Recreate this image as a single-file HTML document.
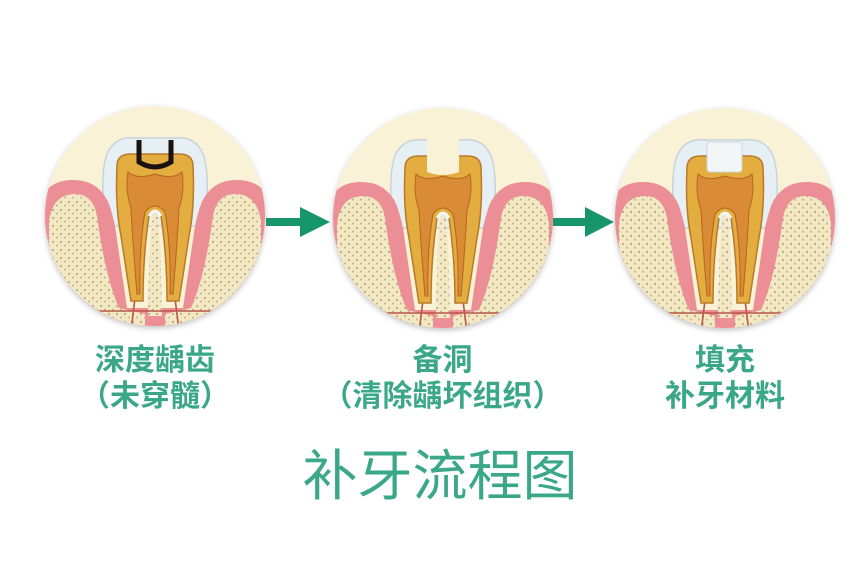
<!DOCTYPE html>
<html><head><meta charset="utf-8"><style>
html,body{margin:0;padding:0;background:#fff;}
body{width:850px;height:579px;overflow:hidden;position:relative;font-family:"Liberation Sans","Noto Sans CJK SC",sans-serif;}
.t{position:absolute;color:#3aa886;text-align:center;font-weight:bold;font-size:30px;line-height:36px;white-space:nowrap;}
</style></head><body>
<svg width="850" height="579" style="position:absolute;left:0;top:0">
<defs>
<pattern id="dots" width="8" height="8" patternUnits="userSpaceOnUse">
<rect width="8" height="8" fill="#f2e8c4"/>
<circle cx="2" cy="2" r="1.1" fill="#bfa97a"/><circle cx="6" cy="5.5" r="1" fill="#c8b386"/>
</pattern>
<clipPath id="cc"><circle cx="0" cy="0" r="110"/></clipPath>
<filter id="sh" x="-20%" y="-20%" width="140%" height="140%"><feDropShadow dx="0" dy="2" stdDeviation="3" flood-color="#000" flood-opacity="0.25"/></filter>
<g id="base">
<circle r="110" fill="#faf2d6" filter="url(#sh)"/>
<g clip-path="url(#cc)">
<!-- enamel (behind gum) -->
<path d="M-50 10 Q-56 -50 -46 -66 Q-38 -80 -20 -78 L20 -78 Q38 -80 46 -66 Q56 -50 50 10 Z" fill="#e6eff3" stroke="#c5d3da" stroke-width="1.5"/>
<path d="M-118 120 L-118 -5 Q-112 -36 -82 -36 Q-56 -36 -46 -12 Q-42 0 -40 10 L-28 92 L28 92 L40 10 Q42 0 46 -12 Q56 -36 82 -36 Q112 -36 118 -5 L118 120 Z" fill="#ec8e95"/>
<path d="M-106 120 L-106 5 Q-102 -22 -80 -22 Q-62 -22 -58 0 Q-50 60 -36 92 L-10 98 L-10 120 Z" fill="url(#dots)"/>
<path d="M106 120 L106 5 Q102 -22 80 -22 Q62 -22 58 0 Q50 60 36 92 L10 98 L10 120 Z" fill="url(#dots)"/>
<path d="M-7 100 Q-6 30 -3 0 Q0 -6 3 0 Q6 30 7 100 Z" fill="url(#dots)"/>
<path d="M-70 95 L70 95 M-20 82 L-24 115 M20 82 L24 115" stroke="#b8574a" stroke-width="1.6" fill="none"/>
<!-- dentin -->
<path d="M-38 -50 Q-38 -62 -24 -62 L24 -62 Q38 -62 38 -50 Q40 -10 34 20 Q28 60 24 85 L12 85 Q12 40 6 0 Q0 -10 -6 0 Q-12 40 -12 85 L-24 85 Q-28 60 -34 20 Q-40 -10 -38 -50 Z" fill="#e3ad40" stroke="#b87a2a" stroke-width="1.5"/>
<!-- pulp -->
<path d="M-27 -44 Q-18 -36 0 -42 Q18 -36 27 -44 Q30 -25 24 -8 Q22 30 18 78 L15 78 Q16 30 10 -4 Q0 -16 -10 -4 Q-16 30 -15 78 L-18 78 Q-22 30 -24 -8 Q-30 -25 -27 -44 Z" fill="#d98b36" stroke="#b5651e" stroke-width="1"/>
<path d="M-6 0 Q0 -10 6 0" stroke="#f3f6f6" stroke-width="3" fill="none"/>
</g>
</g>
</defs>
<g transform="translate(155,216)">
<use href="#base"/>
<path d="M-16 -76 L-16 -54 Q0 -44 16 -54 L16 -76" stroke="#1a1210" stroke-width="5" fill="none"/>
</g>
<g transform="translate(443,218)">
<use href="#base"/>
<path d="M-16 -82 L-16 -46 Q0 -40 16 -46 L16 -82 Z" fill="#faf2d6"/>
</g>
<g transform="translate(725,218)">
<use href="#base"/>
<rect x="-18" y="-76" width="35" height="30" rx="3" fill="#f3f6f7" stroke="#c9d6dc" stroke-width="1"/>
</g>
<path d="M266 218 L300 218 L300 207 L330 222 L300 237 L300 226 L266 226 Z" fill="#17966b"/>
<path d="M553 218 L585 218 L585 207 L614 222 L585 237 L585 226 L553 226 Z" fill="#17966b"/>
</svg>
<div class="t" style="left:55px;width:200px;top:343px">深度龋齿<br>（未穿髓）</div>
<div class="t" style="left:300px;width:285px;top:343px">备洞<br>（清除龋坏组织）</div>
<div class="t" style="left:625px;width:200px;top:343px">填充<br>补牙材料</div>
<div class="t" style="left:280px;width:320px;top:444px;font-size:55px;line-height:64px;font-weight:normal;color:#3aa886">补牙流程图</div>
</body></html>
